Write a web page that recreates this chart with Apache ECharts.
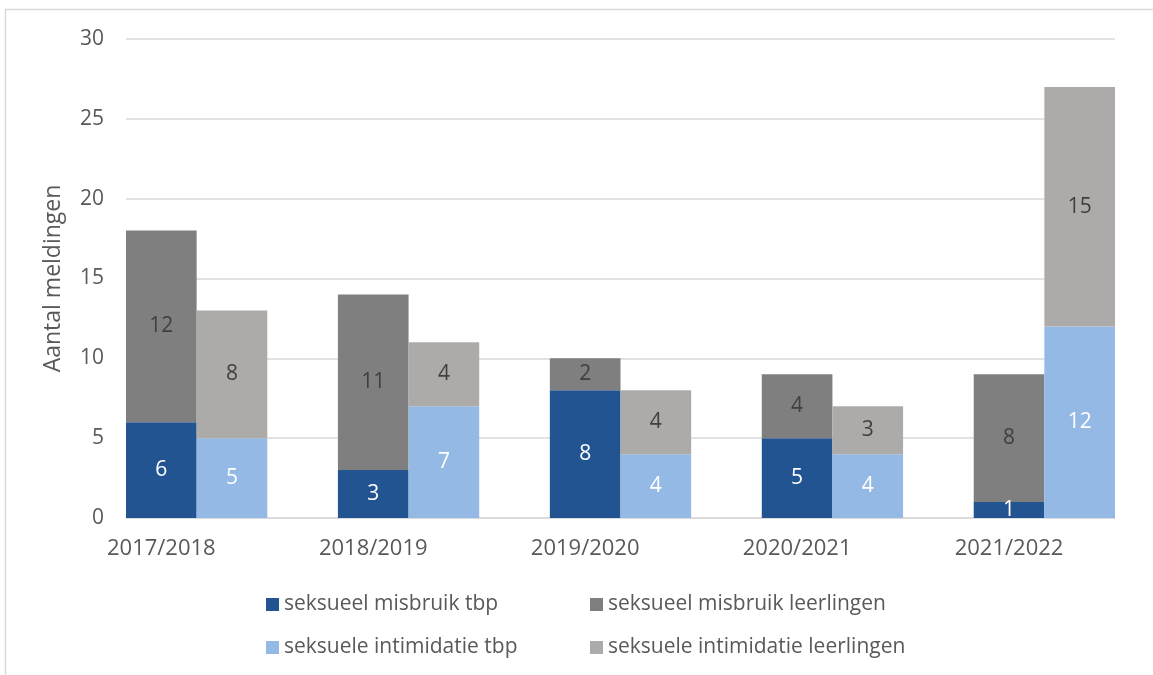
<!DOCTYPE html>
<html>
<head>
<meta charset="utf-8">
<script src="https://cdn.jsdelivr.net/npm/echarts@6/dist/echarts.min.js"></script>
<style>
  html, body { margin: 0; padding: 0; background: #fff; }
  #chart { width: 1153px; height: 675px; }
</style>
</head>
<body>
<div id="chart"></div>
<script>
const years = ['2017/2018', '2018/2019', '2019/2020', '2020/2021', '2021/2022']
const misbruikTbp = [6, 3, 8, 5, 1]
const misbruikLeerlingen = [12, 11, 2, 4, 8]
const intimidatieTbp = [5, 7, 4, 4, 12]
const intimidatieLeerlingen = [8, 4, 4, 3, 15]
const seriesNames = [
  'seksueel misbruik tbp',
  'seksueel misbruik leerlingen',
  'seksuele intimidatie tbp',
  'seksuele intimidatie leerlingen'
]
const colors = ['#215490', '#7f7f7f', '#95b9e5', '#adaba9']

// each year takes 3 slots: misbruik, intimidatie, empty gap (last gap is cut off)
const slotCount = years.length * 3 - 1
const slots = []
for (let i = 0; i < slotCount; i++) slots.push('s' + i)

const toSlots = (values, offset) => {
  const out = slots.map(() => '-')
  values.forEach((v, i) => { out[i * 3 + offset] = v })
  return out
}

const font = "'Open Sans', 'Noto Sans', sans-serif"
const textColor = '#595959'

const makeSeries = (name, values, offset, color, labelColor) => ({
  name: name,
  type: 'bar',
  stack: 'all',
  barWidth: '100%',
  data: toSlots(values, offset),
  itemStyle: { color: color },
  label: {
    show: true,
    position: 'inside',
    color: labelColor,
    fontSize: 21,
    fontFamily: font
  }
})

const legendPos = [
  { left: 266, top: 594 },
  { left: 590, top: 594 },
  { left: 266, top: 637 },
  { left: 590, top: 637 }
]

const chart = echarts.init(document.getElementById('chart'))
chart.setOption({
  animation: false,
  textStyle: { fontFamily: font },
  graphic: [{
    type: 'rect',
    shape: { x: 5.5, y: 9.5, width: 1200, height: 800 },
    style: { fill: 'none', stroke: '#d9d9d9', lineWidth: 1.5 },
    silent: true
  }],
  legend: seriesNames.map((n, i) => ({
    data: [n],
    left: legendPos[i].left,
    top: legendPos[i].top,
    padding: 0,
    icon: 'rect',
    itemWidth: 13,
    itemHeight: 13,
    itemGap: 6,
    textStyle: { color: textColor, fontSize: 21, fontFamily: font },
    selectedMode: false
  })),
  grid: { left: 126, right: 38, top: 39, bottom: 157 },
  xAxis: {
    type: 'category',
    data: slots,
    axisLine: { lineStyle: { color: '#d9d9d9', width: 1.5 } },
    axisTick: { show: false },
    axisLabel: {
      interval: 0,
      hideOverlap: false,
      margin: 20,
      color: textColor,
      fontSize: 22,
      fontFamily: font,
      formatter: (v, idx) => (idx % 3 === 0 ? years[idx / 3] : '')
    }
  },
  yAxis: {
    type: 'value',
    min: 0,
    max: 30,
    interval: 5,
    name: 'Aantal meldingen',
    nameLocation: 'middle',
    nameGap: 61,
    nameTextStyle: { color: textColor, fontSize: 23, fontFamily: font },
    axisLabel: { color: textColor, fontSize: 21, margin: 22, fontFamily: font },
    axisLine: { show: false },
    axisTick: { show: false },
    splitLine: { lineStyle: { color: '#d9d9d9', width: 1.5 } }
  },
  series: [
    makeSeries(seriesNames[0], misbruikTbp, 0, colors[0], '#ffffff'),
    makeSeries(seriesNames[1], misbruikLeerlingen, 0, colors[1], '#404040'),
    makeSeries(seriesNames[2], intimidatieTbp, 1, colors[2], '#ffffff'),
    makeSeries(seriesNames[3], intimidatieLeerlingen, 1, colors[3], '#404040')
  ]
})
</script>
</body>
</html>
